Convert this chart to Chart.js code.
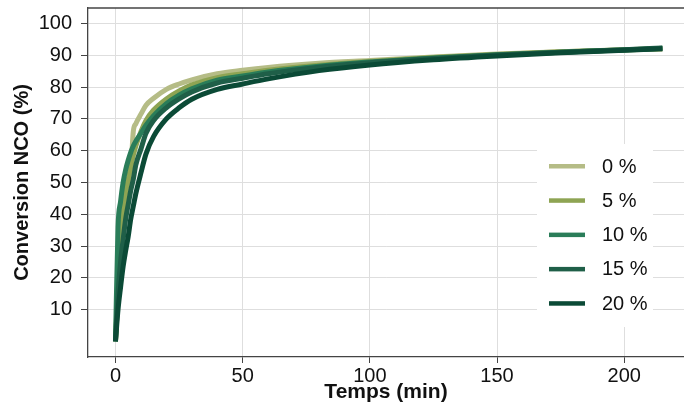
<!DOCTYPE html>
<html lang="fr">
<head>
<meta charset="utf-8">
<title>Conversion NCO</title>
<script src="https://cdn.jsdelivr.net/npm/chart.js@4.4.1/dist/chart.umd.min.js"></script>
<style>
  html, body { margin: 0; padding: 0; background: #fff; }
  #chart { display: block; }
</style>
</head>
<body>
<canvas id="chart" width="684" height="402"></canvas>
<script>
  // temps (min)
  var times = [0, 1, 2, 3, 4, 5, 6, 7, 8, 10, 12, 15, 20, 25, 30, 40, 50, 60, 80, 100, 125, 150, 175, 200, 215];

  // conversion NCO (%) par teneur
  var conv0  = [0, 14, 26, 36, 43, 48, 53, 66, 68.5, 71.5, 74.3, 76.5, 79.3, 81, 82.3, 84.2, 85.3, 86.2, 87.5, 88.4, 89.5, 90.4, 91.1, 91.7, 92.0];
  var conv5  = [0, 18, 30, 40, 47, 51, 55, 58.5, 61.5, 66, 69.5, 72.8, 76.3, 78.8, 80.7, 83.0, 84.2, 85.3, 86.9, 88.1, 89.3, 90.3, 91.1, 91.8, 92.1];
  var conv10 = [0, 36, 44, 50, 54, 57, 59.5, 61.5, 63, 65.5, 68, 71, 74.8, 77.5, 79.5, 82.2, 83.5, 84.8, 86.6, 87.9, 89.2, 90.2, 91.0, 91.7, 92.2];
  var conv15 = [0, 15, 25, 32, 38.5, 43, 47.5, 51, 55.5, 60.5, 65.5, 69.5, 73.5, 76.3, 78.5, 81.3, 82.8, 84.2, 86.3, 87.7, 89.0, 90.1, 91.0, 91.8, 92.3];
  var conv20 = [0, 10, 17, 23.5, 28.5, 33, 38.5, 42.5, 46.5, 53, 59, 64.5, 70, 73.5, 76.2, 79.3, 81.0, 82.6, 85.2, 87.0, 88.6, 89.8, 90.8, 91.6, 92.1];

  var seriesLabels = ['0 %', '5 %', '10 %', '15 %', '20 %'];
  var seriesValues = [conv0, conv5, conv10, conv15, conv20];
  var seriesColors = ['#b5bc86', '#8ea453', '#2a7d59', '#1f5f48', '#0b4a36'];

  var FONT = "'Liberation Sans', Arial, sans-serif";

  function points(values) {
    return values.map(function(v, i) { return { x: times[i], y: v }; });
  }

  var datasets = seriesValues.map(function(values, i) {
    return {
      label: seriesLabels[i],
      data: points(values),
      borderColor: seriesColors[i],
      backgroundColor: seriesColors[i],
      borderWidth: 5,
      pointRadius: 0,
      fill: false,
      cubicInterpolationMode: 'monotone',
      order: seriesValues.length - i
    };
  });

  // legend box inside the plot, plus the top frame line
  var boxLegend = {
    id: 'boxLegend',
    beforeDatasetsDraw: function(chart) {
      var ctx = chart.ctx, area = chart.chartArea;
      ctx.save();
      ctx.strokeStyle = '#444';
      ctx.lineWidth = 1.3;
      ctx.beginPath();
      ctx.moveTo(area.left, area.top);
      ctx.lineTo(area.right, area.top);
      ctx.stroke();

      var x0 = area.left + 449, y0 = area.top + 136;
      ctx.fillStyle = '#fff';
      ctx.fillRect(x0, y0, 116, 183);
      ctx.font = '20px ' + FONT;
      ctx.textBaseline = 'middle';
      ctx.textAlign = 'left';
      for (var i = 0; i < seriesLabels.length; i++) {
        var y = y0 + 22 + i * 34.3;
        ctx.fillStyle = seriesColors[i];
        ctx.fillRect(x0 + 12, y - 2, 36, 4.5);
        ctx.fillStyle = '#111';
        ctx.fillText(seriesLabels[i], x0 + 65, y + 1);
      }
      ctx.restore();
    }
  };

  new Chart(document.getElementById('chart'), {
    type: 'line',
    data: { datasets: datasets },
    options: {
      responsive: false,
      animation: false,
      layout: { padding: { left: 0, right: 0, top: 8, bottom: 0 } },
      plugins: { legend: { display: false }, tooltip: { enabled: false } },
      scales: {
        x: {
          type: 'linear',
          min: -10.8,
          max: 223.5,
          afterFit: function(s) { s.height = 45; s.paddingLeft = 0; s.paddingRight = 0; },
          ticks: {
            stepSize: 50,
            includeBounds: false,
            padding: 1,
            color: '#111',
            font: { family: FONT, size: 20 }
          },
          grid: { color: '#dedede', lineWidth: 1, tickLength: 6, tickColor: '#444' },
          border: { color: '#444', width: 1.3 },
          title: {
            display: true,
            text: 'Temps (min)',
            color: '#111',
            font: { family: FONT, size: 21, weight: 'bold', lineHeight: 1 },
            padding: { top: 0, bottom: -1 }
          }
        },
        y: {
          min: -4.9,
          max: 104.9,
          afterFit: function(s) { s.width = 88; s.paddingTop = 0; s.paddingBottom = 0; },
          ticks: {
            stepSize: 10,
            includeBounds: false,
            padding: 9,
            color: '#111',
            font: { family: FONT, size: 20 },
            callback: function(v) { return v === 0 ? null : v; }
          },
          grid: { color: '#dedede', lineWidth: 1, tickLength: 7, tickColor: '#444' },
          border: { color: '#444', width: 1.3 },
          title: {
            display: true,
            text: 'Conversion NCO (%)',
            color: '#111',
            font: { family: FONT, size: 20, weight: 'bold', lineHeight: 1 },
            padding: { top: 12.5, bottom: 0 }
          }
        }
      }
    },
    plugins: [boxLegend]
  });
</script>
</body>
</html>
